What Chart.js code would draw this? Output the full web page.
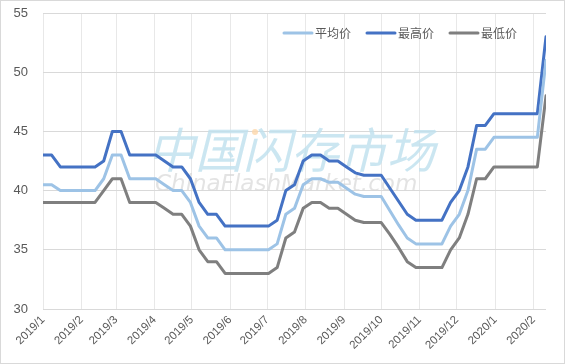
<!DOCTYPE html>
<html>
<head>
<meta charset="utf-8">
<script src="https://cdn.jsdelivr.net/npm/chart.js@4.4.1/dist/chart.umd.min.js"></script>
<style>
  html, body { margin: 0; padding: 0; background: #fff; }
  #wrap { width: 565px; height: 364px; box-sizing: border-box; border: 1px solid #d9d9d9; }
  canvas { display: block; }
</style>
</head>
<body>
<div id="wrap"><canvas id="chart1" width="563" height="362"></canvas></div>
<script>
const monthLabels = ["2019/1", "2019/2", "2019/3", "2019/4", "2019/5", "2019/6", "2019/7",
  "2019/8", "2019/9", "2019/10", "2019/11", "2019/12", "2020/1", "2020/2"];

// weekly prices, first point 2019/1/1
const avgPrice = [40.5, 40.5, 40, 40, 40, 40, 40, 41, 43, 43,
  41, 41, 41, 41, 40.5, 40, 40, 39, 37, 36,
  36, 35, 35, 35, 35, 35, 35, 35.5, 38, 38.5,
  40.5, 41, 41, 40.7, 40.7, 40.2, 39.7, 39.5, 39.5, 39.5,
  38.3, 37.1, 36, 35.5, 35.5, 35.5, 35.5, 37, 38, 40,
  43.5, 43.5, 44.5, 44.5, 44.5, 44.5, 44.5, 44.5, 51];
const highPrice = [43, 43, 42, 42, 42, 42, 42, 42.5, 45, 45,
  43, 43, 43, 43, 42.5, 42, 42, 41, 39, 38,
  38, 37, 37, 37, 37, 37, 37, 37.5, 40, 40.5,
  42.5, 43, 43, 42.5, 42.5, 42, 41.5, 41.3, 41.3, 41.3,
  40.2, 39.1, 38, 37.5, 37.5, 37.5, 37.5, 39, 40, 42,
  45.5, 45.5, 46.5, 46.5, 46.5, 46.5, 46.5, 46.5, 53];
const lowPrice = [39, 39, 39, 39, 39, 39, 39, 40, 41, 41,
  39, 39, 39, 39, 38.5, 38, 38, 37, 35, 34,
  34, 33, 33, 33, 33, 33, 33, 33.5, 36, 36.5,
  38.5, 39, 39, 38.5, 38.5, 38, 37.5, 37.3, 37.3, 37.3,
  36.3, 35.2, 34, 33.5, 33.5, 33.5, 33.5, 35, 36, 38,
  41, 41, 42, 42, 42, 42, 42, 42, 48];

const DAY = 86400000;
const start = Date.UTC(2019, 0, 1);
const dayOf = (label) => {
  const [y, m] = label.split("/").map(Number);
  return (Date.UTC(y, m - 1, 1) - start) / DAY;
};
const monthDays = monthLabels.map(dayOf);
const toPoints = (arr) => arr.map((v, i) => ({ x: i * 7, y: v }));
const lastDay = (avgPrice.length - 1) * 7;

const watermark = {
  id: "watermark",
  beforeDatasetsDraw(chart) {
    const ctx = chart.ctx;
    ctx.save();
    ctx.textBaseline = "middle";
    ctx.font = 'italic 48px "Noto Sans CJK SC"';
    ctx.fillStyle = "rgba(190, 224, 238, 0.8)";
    ctx.fillText("中国闪存市场", 146, 149);
    ctx.fillStyle = "rgba(253, 215, 170, 0.8)";
    ctx.beginPath();
    ctx.arc(254, 131, 3, 0, Math.PI * 2);
    ctx.fill();
    ctx.font = 'italic 23px "DejaVu Sans"';
    ctx.fillStyle = "rgba(215, 215, 215, 0.7)";
    ctx.fillText("ChinaFlashMarket.com", 154, 184);
    ctx.restore();
  }
};

const legendInside = {
  id: "legendInside",
  afterDraw(chart) {
    const ctx = chart.ctx;
    ctx.save();
    ctx.font = '12px "Noto Sans CJK SC"';
    ctx.textBaseline = "middle";
    const items = chart.data.datasets;
    const lineW = 28, gap = 3, space = 16;
    let total = 0;
    items.forEach((d, i) => {
      total += lineW + gap + ctx.measureText(d.label).width + (i ? space : 0);
    });
    let x = chart.chartArea.right - 29 - total;
    const y = chart.chartArea.top + 20;
    items.forEach((d) => {
      ctx.strokeStyle = d.borderColor;
      ctx.lineWidth = 3;
      ctx.lineCap = "round";
      ctx.beginPath();
      ctx.moveTo(x, y);
      ctx.lineTo(x + lineW, y);
      ctx.stroke();
      x += lineW + gap;
      ctx.fillStyle = "#595959";
      ctx.fillText(d.label, x, y);
      x += ctx.measureText(d.label).width + space;
    });
    ctx.restore();
  }
};

const ctx1 = document.getElementById("chart1").getContext("2d");

const chart1 = new Chart(ctx1, {
  type: "line",
  data: {
    datasets: [
      { label: "平均价", data: toPoints(avgPrice), borderColor: "#9dc3e6" },
      { label: "最高价", data: toPoints(highPrice), borderColor: "#4472c4" },
      { label: "最低价", data: toPoints(lowPrice), borderColor: "#7f7f7f" },
    ],
  },
  options: {
    responsive: false,
    animation: false,
    layout: { padding: { top: 12, right: 18, bottom: 0, left: 0 } },
    elements: {
      line: { borderWidth: 3, tension: 0, borderJoinStyle: "round", borderCapStyle: "round" },
      point: { radius: 0 },
    },
    plugins: {
      legend: { display: false },
      tooltip: { enabled: false },
    },
    scales: {
      x: {
        type: "linear",
        min: 0,
        max: lastDay,
        afterBuildTicks: (axis) => {
          axis.ticks = monthDays.map((v) => ({ value: v }));
        },
        afterFit: (scale) => { scale.height = 54; },
        grid: { color: "#e8e8e8", drawTicks: false },
        border: { display: false },
        ticks: {
          autoSkip: false,
          maxRotation: 45,
          minRotation: 45,
          padding: 4,
          color: "#595959",
          font: { family: "Liberation Sans", size: 11.5 },
          callback: (value, index) => monthLabels[index],
        },
      },
      y: {
        min: 30,
        max: 55,
        afterFit: (scale) => {
          scale.width = 42;
          scale.paddingTop = 0;
          scale.paddingBottom = 0;
        },
        grid: { color: "#d9d9d9", drawTicks: false },
        border: { display: false },
        ticks: {
          stepSize: 5,
          padding: 15,
          color: "#595959",
          font: { family: "Liberation Sans", size: 13 },
        },
      },
    },
  },
  plugins: [watermark, legendInside],
});
</script>
</body>
</html>
